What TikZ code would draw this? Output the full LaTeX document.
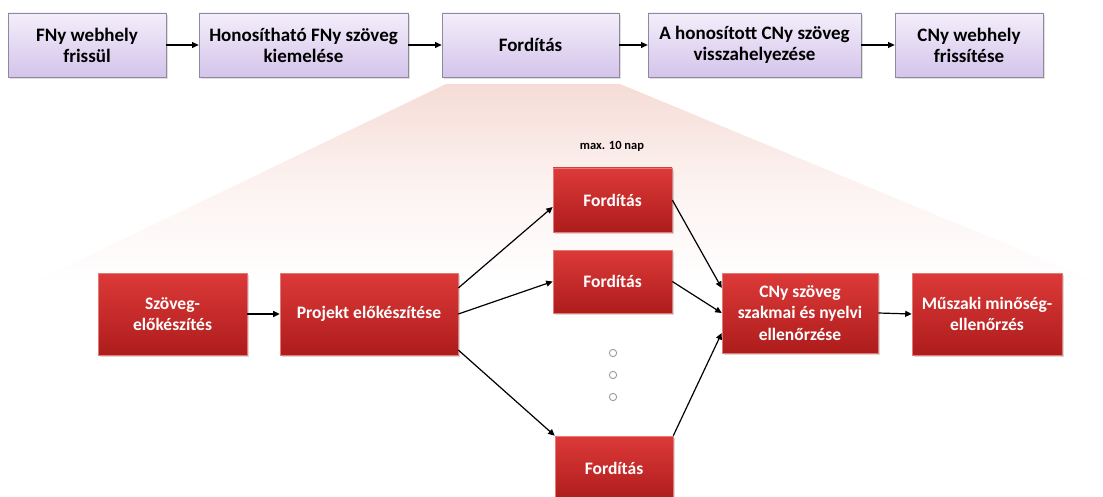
\documentclass[tikz,border=0pt]{standalone}
\usepackage{fontspec}
\setmainfont{Carlito}
\usetikzlibrary{arrows.meta,shadows,calc}
\definecolor{lavtop}{HTML}{F4EEFB}
\definecolor{lavbot}{HTML}{D4C4EA}
\definecolor{lavline}{HTML}{8E8A9E}
\definecolor{redtop}{HTML}{DC3A38}
\definecolor{redbot}{HTML}{AE1C1C}
\definecolor{redline}{HTML}{E27A78}
\definecolor{fanpink}{HTML}{F6DCD6}
\tikzset{
  topbox/.style={draw=lavline, line width=0.8pt, top color=lavtop, bottom color=lavbot,
    align=center, font=\fontsize{19}{21}\selectfont\bfseries, text=black, inner sep=2pt,
    drop shadow={shadow xshift=1.5pt, shadow yshift=-2pt, opacity=0.25}},
  redbox/.style={draw=redline, line width=0.6pt, top color=redtop, bottom color=redbot,
    align=center, font=\fontsize{17.5}{21.5}\selectfont\bfseries, text=white, inner sep=2pt,
    drop shadow={shadow xshift=1.5pt, shadow yshift=-2pt, opacity=0.3}},
  conn/.style={-{Triangle[length=6.5pt,width=6pt]}, line width=1.2pt, black},
  dot/.style={circle, draw=gray!80, line width=0.9pt, inner sep=2.6pt}
}
\begin{document}
\begin{tikzpicture}[x=1pt,y=-1pt]
\useasboundingbox (0,0) rectangle (1103,497);
% fan
\shade[top color=fanpink, bottom color=white, middle color=fanpink!35]
  (446,84) -- (620,84) -- (1103,284) -- (30,284) -- cycle;
% top row
\node[topbox, minimum width=158pt, minimum height=64pt] (b1) at (87,45) {FNy webhely\\frissül};
\node[topbox, minimum width=209pt, minimum height=64pt] (b2) at (303.5,45) {Honosítható FNy szöveg\\kiemelése};
\node[topbox, minimum width=177pt, minimum height=64pt] (b3) at (530.5,45) {Fordítás};
\node[topbox, minimum width=213pt, minimum height=64pt] (b4) at (754.5,45) {A honosított CNy szöveg\\visszahelyezése};
\node[topbox, minimum width=148pt, minimum height=64pt] (b5) at (969,45) {CNy webhely\\frissítése};
\draw[conn] (b1.east) -- (b2.west);
\draw[conn] (b2.east) -- (b3.west);
\draw[conn] (b3.east) -- (b4.west);
\draw[conn] (b4.east) -- (b5.west);
% bottom row
\node[font=\fontsize{12.5}{14}\selectfont\bfseries] (lbl) at (612,146) {max. 10 nap};
\node[redbox, minimum width=149pt, minimum height=82pt] (s) at (172.5,314) {Szöveg-\\előkészítés};
\node[redbox, minimum width=178pt, minimum height=82pt] (p) at (369,314) {Projekt előkészítése};
\node[redbox, minimum width=119pt, minimum height=64pt] (f1) at (612.5,200) {Fordítás};
\node[redbox, minimum width=119pt, minimum height=63pt] (f2) at (612.5,281.5) {Fordítás};
\node[redbox, minimum width=118pt, minimum height=64pt] (f4) at (614,468) {Fordítás};
\node[redbox, minimum width=156pt, minimum height=80pt] (c) at (800,313) {CNy szöveg\\szakmai és nyelvi\\ellenőrzése};
\node[redbox, minimum width=150pt, minimum height=82pt] (m) at (987,314) {Műszaki minőség-\\ellenőrzés};
\node[dot] (d1) at (613,353) {};
\node[dot] (d2) at (613,375) {};
\node[dot] (d3) at (613,397) {};
\draw[conn] (s.east) -- (p.west);
\draw[conn] ([yshift=26pt]p.east) -- ([yshift=-7pt]f1.west);
\draw[conn] (p.east) -- (f2.west);
\draw[conn] ([yshift=-36pt]p.east) -- (f4.north west);
\draw[conn] (f1.east) -- ([yshift=25pt]c.west);
\draw[conn] (f2.east) -- (c.west);
\draw[conn] (f4.north east) -- ([yshift=-20pt]c.west);
\draw[conn] (c.east) -- (m.west);
\end{tikzpicture}
\end{document}
